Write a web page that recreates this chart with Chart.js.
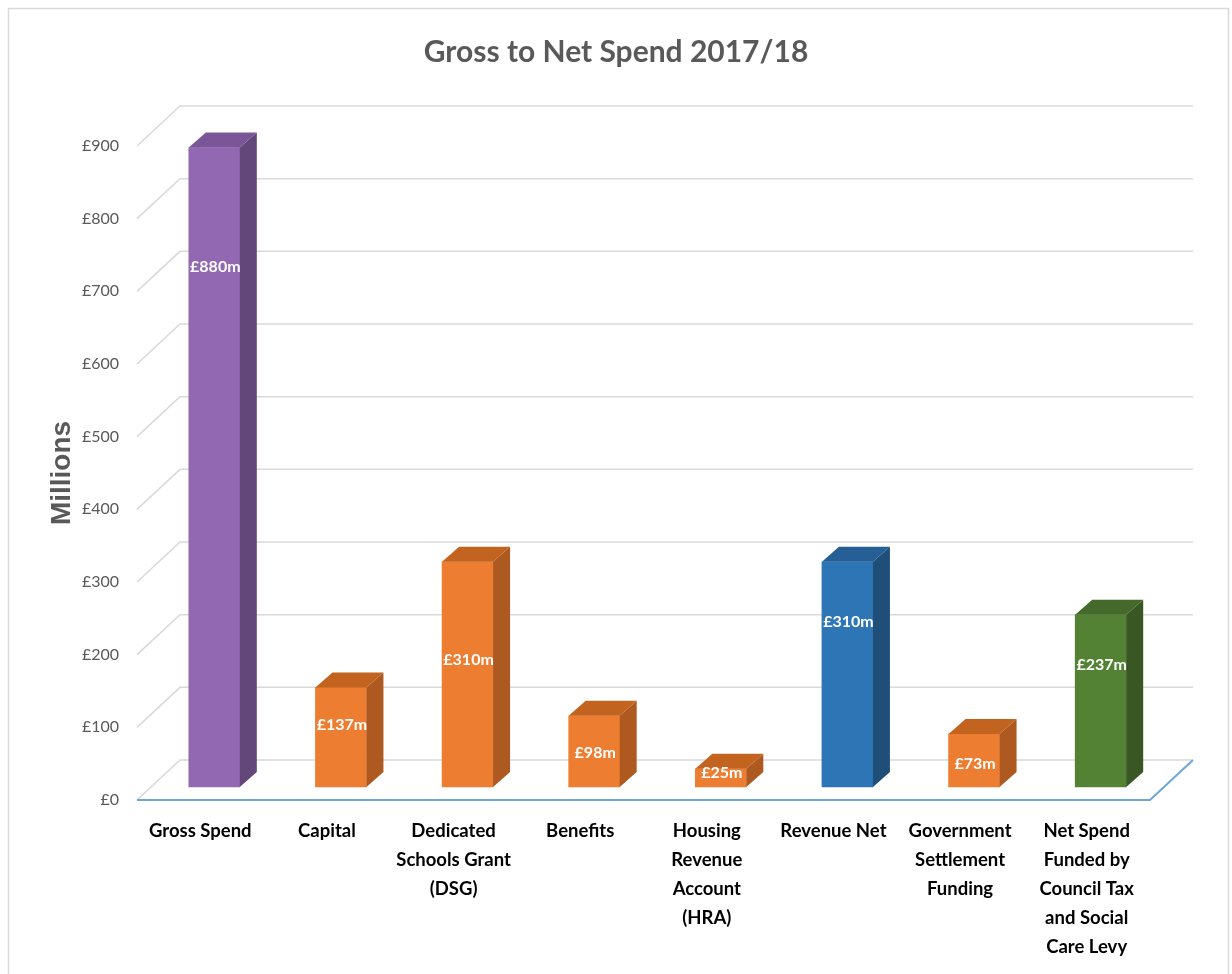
<!DOCTYPE html>
<html>
<head>
<meta charset="utf-8">
<title>Gross to Net Spend 2017/18</title>
<script src="https://cdn.jsdelivr.net/npm/chart.js@4.4.1/dist/chart.umd.min.js"></script>
<style>
  html, body { margin: 0; padding: 0; background: #fff; }
  canvas { display: block; }
</style>
</head>
<body>
<canvas id="spendChart" width="1232" height="974"></canvas>
<script>
// categories, split over lines the way they sit under the bars
const categories = [
  'Gross Spend',
  'Capital',
  ['Dedicated', 'Schools Grant', '(DSG)'],
  'Benefits',
  ['Housing', 'Revenue', 'Account', '(HRA)'],
  'Revenue Net',
  ['Government', 'Settlement', 'Funding'],
  ['Net Spend', 'Funded by', 'Council Tax', 'and Social', 'Care Levy']
];

// £ millions
const spend = [880, 137, 310, 98, 25, 310, 73, 237];

// which colour group each bar belongs to
const barKind = ['gross', 'less', 'less', 'less', 'less', 'net', 'less', 'council'];

const yTicks = [0, 100, 200, 300, 400, 500, 600, 700, 800, 900];

const palette = {
  gross:   { front: '#9168B1', side: '#63467A', top: '#7A5699' },
  less:    { front: '#ED7D31', side: '#AD5920', top: '#C2631F' },
  net:     { front: '#2E75B6', side: '#1F4E79', top: '#265F95' },
  council: { front: '#548235', side: '#385723', top: '#44692A' }
};

// fake 3D: back wall offset and bar depth
const wall = { dx: 43, dy: -40 };
const depth = { dx: 17, dy: -15 };
const barShift = { x: 14, y: -13 };

const bars3d = {
  id: 'bars3d',
  beforeDraw(chart) {
    const { ctx, chartArea: a, scales: { y } } = chart;
    ctx.save();
    ctx.fillStyle = '#fff';
    ctx.fillRect(0, 0, chart.width, chart.height);
    ctx.strokeStyle = '#d9d9d9';
    ctx.lineWidth = 1.5;
    ctx.strokeRect(8.5, 8.5, 1220, chart.height + 20);

    ctx.lineWidth = 1.5;
    yTicks.forEach(v => {
      const py = y.getPixelForValue(v);
      ctx.strokeStyle = '#d9d9d9';
      ctx.beginPath();
      ctx.moveTo(a.left, py);
      ctx.lineTo(a.left + wall.dx, py + wall.dy);
      ctx.lineTo(a.right + wall.dx, py + wall.dy);
      ctx.stroke();
    });

    // floor front and right edges
    const p0 = y.getPixelForValue(0);
    ctx.strokeStyle = '#6FA5D8';
    ctx.lineWidth = 2;
    ctx.beginPath();
    ctx.moveTo(a.left, p0);
    ctx.lineTo(a.right, p0);
    ctx.lineTo(a.right + wall.dx, p0 + wall.dy);
    ctx.stroke();
    ctx.restore();
  },
  beforeDatasetsDraw(chart) {
    chart.ctx.save();
    chart.ctx.translate(barShift.x, barShift.y);
  },
  afterDatasetsDraw(chart, args, opts) {
    const { ctx, scales: { y } } = chart;
    const meta = chart.getDatasetMeta(0);
    meta.data.forEach((bar, i) => {
      const { x, y: top, base, width } = bar.getProps(['x', 'y', 'base', 'width'], true);
      const l = x - width / 2, r = x + width / 2;
      const c = palette[barKind[i]];
      ctx.fillStyle = c.side;
      ctx.beginPath();
      ctx.moveTo(r, top);
      ctx.lineTo(r + depth.dx, top + depth.dy);
      ctx.lineTo(r + depth.dx, base + depth.dy);
      ctx.lineTo(r, base);
      ctx.closePath();
      ctx.fill();
      ctx.fillStyle = c.top;
      ctx.beginPath();
      ctx.moveTo(l, top);
      ctx.lineTo(l + depth.dx, top + depth.dy);
      ctx.lineTo(r + depth.dx, top + depth.dy);
      ctx.lineTo(r, top);
      ctx.closePath();
      ctx.fill();

      ctx.fillStyle = '#fff';
      ctx.font = 'bold 16px Lato';
      ctx.textAlign = 'center';
      ctx.textBaseline = 'middle';
      ctx.fillText('£' + spend[i] + 'm', x + 1, y.getPixelForValue(opts.labelAt[i]));
    });
    ctx.restore();
  }
};

new Chart(document.getElementById('spendChart'), {
  type: 'bar',
  data: {
    labels: categories,
    datasets: [{
      data: spend,
      backgroundColor: barKind.map(k => palette[k].front),
      barThickness: 51,
      clip: false
    }]
  },
  options: {
    responsive: false,
    animation: false,
    devicePixelRatio: 1,
    layout: { padding: 0 },
    plugins: {
      legend: { display: false },
      tooltip: { enabled: false },
      title: {
        display: true,
        text: 'Gross to Net Spend 2017/18',
        color: '#595959',
        font: { family: 'Lato', size: 30, weight: 'bold', lineHeight: 1.2 },
        padding: { top: 34, bottom: 76 }
      },
      bars3d: { labelAt: [716, 85, 175, 47, 19, 227, 32, 168] }
    },
    scales: {
      x: {
        grid: { display: false, drawTicks: false },
        border: { display: false },
        ticks: {
          color: '#000',
          padding: 17,
          maxRotation: 0,
          autoSkip: false,
          font: { family: 'Lato', size: 18.5, weight: 'bold', lineHeight: 29 / 18.5 }
        },
        afterFit(scale) { scale.height = 174; }
      },
      y: {
        min: 0,
        max: 900,
        grid: { display: false, drawTicks: false },
        border: { display: false },
        afterBuildTicks(scale) { scale.ticks = yTicks.map(v => ({ value: v })); },
        ticks: {
          color: '#595959',
          padding: 18,
          font: { family: 'Lato', size: 16 },
          callback: v => '£' + v
        },
        title: {
          display: true,
          text: 'Millions',
          color: '#595959',
          font: { family: 'Liberation Sans', size: 28, weight: 'bold', lineHeight: 1.2 },
          padding: { top: 45, bottom: 0 }
        },
        afterFit(scale) { scale.width = 137; }
      },
      // empty strip on the right that holds room for the back wall
      gap: {
        position: 'right',
        grid: { display: false, drawTicks: false },
        border: { display: false },
        ticks: { display: false },
        afterFit(scale) { scale.width = 82; }
      }
    }
  },
  plugins: [bars3d]
});
</script>
</body>
</html>
